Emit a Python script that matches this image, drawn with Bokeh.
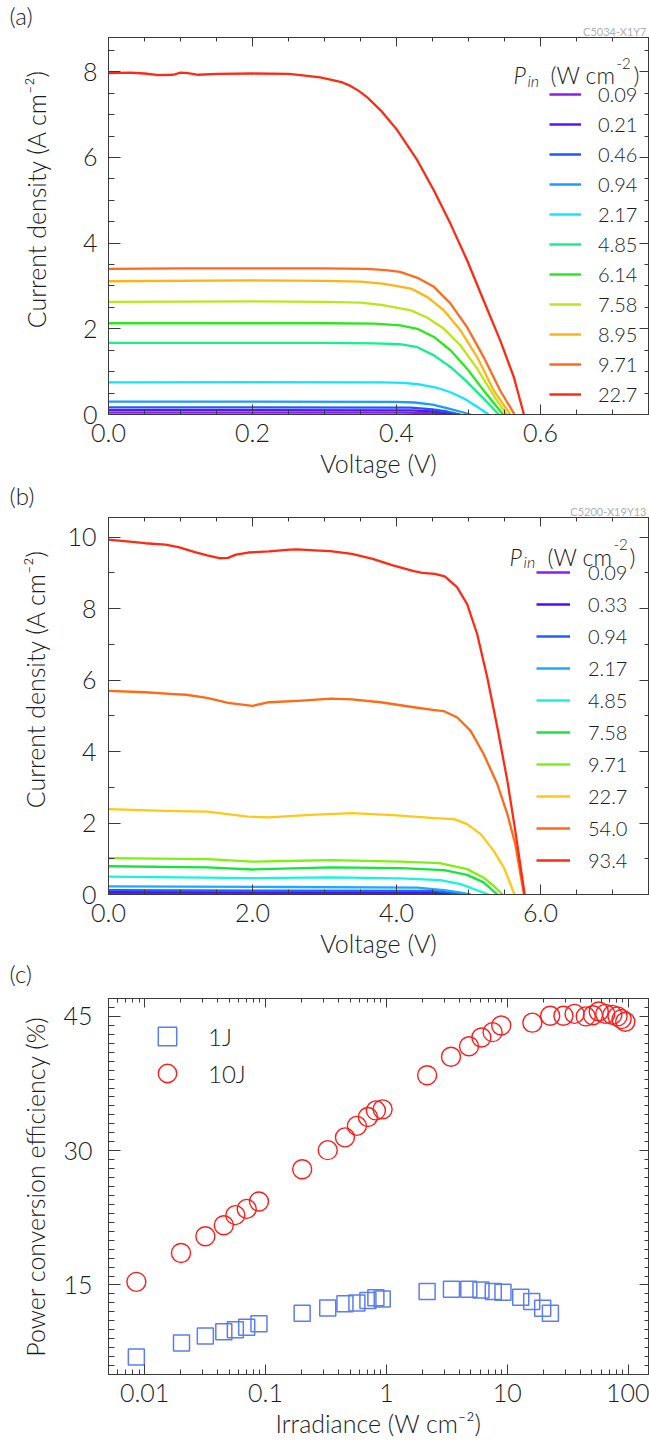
import numpy as np
from bokeh.plotting import figure
from bokeh.models import (LinearAxis, LogAxis, FixedTicker, Label, Legend, LegendItem, Title,
                          PrintfTickFormatter, CustomJSTickFormatter)
from bokeh.layouts import column
from bokeh.embed import file_html
from bokeh.resources import INLINE

FONT = "Lato Light"
INK = "#1c1c1c"
FRAME = "#3a3a3a"
NB = "\u00a0"
TICK_FS = "25px"
LABEL_FS = "25px"

# ---------------- panel (a): single junction, J-V curves ----------------
a_pin_labels = ["0.09", "0.21", "0.46", "0.94", "2.17", "4.85", "6.14", "7.58", "8.95", "9.71", "22.7"]
a_colors = ["#8a1cf0", "#5a14f5", "#2255ff", "#1a9cff", "#12e6ff", "#14f08a",
            "#2ae81a", "#bde61a", "#ffb414", "#ff6a1e", "#ff2a14"]

a_v_0p09 = [0.0, 0.20, 0.41, 0.44, 0.46, 0.47]
a_j_0p09 = [0.045, 0.045, 0.043, 0.03, 0.015, 0.0]
a_v_0p21 = [0.0, 0.20, 0.42, 0.45, 0.47, 0.482]
a_j_0p21 = [0.10, 0.10, 0.095, 0.07, 0.035, 0.0]
a_v_0p46 = [0.0, 0.20, 0.42, 0.45, 0.47, 0.489]
a_j_0p46 = [0.165, 0.165, 0.16, 0.12, 0.07, 0.0]
a_v_0p94 = [0.0, 0.20, 0.40, 0.425, 0.45, 0.47, 0.488, 0.503]
a_j_0p94 = [0.30, 0.30, 0.295, 0.28, 0.23, 0.15, 0.07, 0.0]
a_v_2p17 = [0.0, 0.20, 0.38, 0.41, 0.433, 0.455, 0.475, 0.495, 0.512, 0.528]
a_j_2p17 = [0.75, 0.755, 0.75, 0.74, 0.70, 0.63, 0.52, 0.36, 0.18, 0.0]
a_v_4p85 = [0.0, 0.20, 0.30, 0.37, 0.405, 0.429, 0.452, 0.475, 0.498, 0.521, 0.542]
a_j_4p85 = [1.67, 1.67, 1.67, 1.66, 1.64, 1.57, 1.38, 1.11, 0.76, 0.37, 0.0]
a_v_6p14 = [0.0, 0.20, 0.30, 0.37, 0.405, 0.429, 0.452, 0.475, 0.498, 0.521, 0.548]
a_j_6p14 = [2.13, 2.13, 2.13, 2.12, 2.08, 2.00, 1.81, 1.50, 1.07, 0.56, 0.0]
a_v_7p58 = [0.0, 0.20, 0.30, 0.35, 0.383, 0.42, 0.443, 0.466, 0.489, 0.512, 0.535, 0.553]
a_j_7p58 = [2.63, 2.64, 2.63, 2.61, 2.55, 2.43, 2.26, 2.00, 1.61, 1.07, 0.44, 0.0]
a_v_8p95 = [0.0, 0.20, 0.30, 0.35, 0.383, 0.42, 0.443, 0.466, 0.489, 0.512, 0.535, 0.558]
a_j_8p95 = [3.11, 3.13, 3.12, 3.10, 3.05, 2.94, 2.74, 2.43, 1.96, 1.34, 0.56, 0.0]
a_v_9p71 = [0.0, 0.10, 0.20, 0.30, 0.359, 0.385, 0.405, 0.429, 0.452, 0.475, 0.498, 0.521, 0.544, 0.564]
a_j_9p71 = [3.40, 3.41, 3.41, 3.41, 3.40, 3.37, 3.33, 3.19, 2.98, 2.59, 2.04, 1.34, 0.56, 0.0]
a_v_22p7 = [0.0, 0.03, 0.05, 0.07, 0.09, 0.10, 0.11, 0.125, 0.15, 0.20, 0.25, 0.267, 0.294,
            0.313, 0.325, 0.336, 0.347, 0.359, 0.378, 0.401, 0.429, 0.452, 0.475, 0.498, 0.521,
            0.544, 0.563, 0.577]
a_j_22p7 = [7.97, 7.98, 7.96, 7.92, 7.93, 7.98, 7.97, 7.93, 7.95, 7.96, 7.95, 7.92, 7.87,
            7.80, 7.75, 7.67, 7.56, 7.41, 7.10, 6.64, 5.93, 5.23, 4.45, 3.60, 2.66,
            1.73, 0.87, 0.0]

# ---------------- panel (b): ten junctions, J-V curves ----------------
b_pin_labels = ["0.09", "0.33", "0.94", "2.17", "4.85", "7.58", "9.71", "22.7", "54.0", "93.4"]
b_colors = ["#8a1cf0", "#4a10f0", "#1f5fff", "#1aaaff", "#14f5dc", "#14e63c",
            "#80f014", "#ffc814", "#ff6a14", "#ff2a14"]

b_v_0p09 = [0.0, 4.40, 4.65, 4.78]
b_j_0p09 = [0.03, 0.025, 0.01, 0.0]
b_v_0p33 = [0.0, 4.50, 4.75, 4.88]
b_j_0p33 = [0.065, 0.055, 0.02, 0.0]
b_v_0p94 = [0.0, 4.52, 4.80, 4.93]
b_j_0p94 = [0.12, 0.10, 0.04, 0.0]
b_v_2p17 = [0.0, 2.50, 4.29, 4.66, 4.89, 5.03]
b_j_2p17 = [0.23, 0.21, 0.19, 0.12, 0.05, 0.0]
b_v_4p85 = [0.0, 2.00, 3.09, 4.06, 4.61, 4.89, 5.12, 5.28]
b_j_4p85 = [0.50, 0.46, 0.48, 0.45, 0.40, 0.29, 0.12, 0.0]
b_v_7p58 = [0.0, 1.37, 2.00, 3.09, 4.06, 4.66, 4.98, 5.21, 5.40]
b_j_7p58 = [0.79, 0.76, 0.70, 0.76, 0.74, 0.68, 0.55, 0.34, 0.0]
b_v_9p71 = [0.0, 1.37, 2.00, 2.67, 3.09, 4.06, 4.60, 4.98, 5.21, 5.35, 5.47]
b_j_9p71 = [1.02, 0.99, 0.92, 0.944, 0.96, 0.92, 0.88, 0.71, 0.47, 0.24, 0.0]
b_v_22p7 = [0.0, 0.79, 1.37, 1.94, 2.23, 2.80, 3.38, 3.95, 4.53, 4.80, 4.98, 5.17, 5.35, 5.49, 5.64]
b_j_22p7 = [2.39, 2.34, 2.32, 2.18, 2.16, 2.23, 2.28, 2.22, 2.14, 2.11, 1.97, 1.69, 1.22, 0.76, 0.0]
b_v_54p0 = [0.0, 0.51, 0.91, 1.08, 1.37, 1.66, 2.00, 2.23, 2.63, 3.09, 3.38, 3.78, 4.24,
            4.53, 4.66, 4.84, 5.03, 5.21, 5.40, 5.54, 5.65, 5.77]
b_j_54p0 = [5.70, 5.66, 5.61, 5.59, 5.50, 5.36, 5.28, 5.38, 5.42, 5.48, 5.46, 5.38, 5.24,
            5.16, 5.13, 4.96, 4.58, 3.93, 3.09, 2.25, 1.41, 0.0]
b_v_93p4 = [0.0, 0.22, 0.51, 0.79, 0.97, 1.20, 1.37, 1.54, 1.66, 1.77, 1.94, 2.23, 2.52, 2.63,
            2.86, 3.08, 3.38, 3.67, 3.95, 4.24, 4.36, 4.53, 4.67, 4.84, 4.98, 5.12, 5.26,
            5.40, 5.54, 5.65, 5.78]
b_j_93p4 = [9.93, 9.89, 9.83, 9.79, 9.72, 9.58, 9.49, 9.41, 9.42, 9.51, 9.57, 9.60, 9.65, 9.66,
            9.63, 9.61, 9.53, 9.39, 9.21, 9.05, 9.00, 8.97, 8.90, 8.60, 8.13, 7.29, 6.08,
            4.68, 3.18, 1.78, 0.0]

# ---------------- panel (c): efficiency vs irradiance ----------------
c_irr_1j = [0.00855, 0.0202, 0.0318, 0.0452, 0.0563, 0.0699, 0.0883, 0.201, 0.327, 0.454,
            0.570, 0.703, 0.818, 0.923, 2.17, 3.45, 4.80, 6.05, 7.65, 9.2, 12.9, 15.9, 19.6, 22.7]
c_pce_1j = [6.96, 8.51, 9.29, 9.78, 10.0, 10.29, 10.67, 11.85, 12.44, 12.89,
            13.0, 13.26, 13.56, 13.44, 14.26, 14.51, 14.51, 14.44, 14.26, 14.18, 13.63, 13.15, 12.41, 11.85]
c_irr_10j = [0.00855, 0.0200, 0.0318, 0.0452, 0.0563, 0.0699, 0.0883, 0.201, 0.327, 0.454,
             0.570, 0.703, 0.818, 0.930, 2.17, 3.42, 4.82, 6.10, 7.55, 8.9, 16.1, 22.6,
             29.1, 36.0, 44.5, 51.0, 57.0, 64.5, 73.8, 81.5, 88.1, 94.5]
c_pce_10j = [15.35, 18.57, 20.44, 21.67, 22.8, 23.5, 24.33, 27.92, 30.06, 31.49,
             32.77, 33.76, 34.5, 34.62, 38.43, 40.5, 41.67, 42.65, 43.24, 43.98, 44.3, 45.08,
             45.08, 45.28, 45.0, 45.13, 45.55, 45.28, 45.17, 45.0, 44.7, 44.4]

# ---------------- tick positions ----------------
a_x_major = [0.0, 0.2, 0.4, 0.6]
a_x_minor = [round(0.05 * i, 2) for i in range(0, 16)]
a_y_major = [0, 2, 4, 6, 8]
a_y_minor = [0.5 * i for i in range(0, 18)]
b_x_major = [0.0, 2.0, 4.0, 6.0]
b_x_minor = [0.5 * i for i in range(0, 16)]
b_y_major = [0, 2, 4, 6, 8, 10]
b_y_minor = list(range(0, 11))
c_x_major = [0.01, 0.1, 1, 10, 100]
c_x_minor = [m * 10.0 ** e for e in range(-3, 2) for m in range(2, 10)]
c_y_major = [15, 30, 45]
c_y_minor = list(range(5, 48))


def style_axis(ax, major, minor, fmt, show, tin, tmin, standoff=0):
    ax.ticker = FixedTicker(ticks=major, minor_ticks=minor)
    ax.axis_line_color = FRAME
    ax.major_tick_line_color = FRAME
    ax.minor_tick_line_color = FRAME
    ax.major_tick_in = tin
    ax.major_tick_out = 0
    ax.minor_tick_in = tmin
    ax.minor_tick_out = 0
    ax.major_label_text_font = FONT
    ax.major_label_text_color = INK
    if show:
        ax.formatter = fmt
        ax.major_label_text_font_size = TICK_FS
        ax.major_label_standoff = standoff
    else:
        ax.formatter = CustomJSTickFormatter(code="return '';")
        ax.major_label_text_font_size = "0px"
        ax.major_label_standoff = 0


def set_label(ax, text, standoff):
    ax.axis_label = text
    ax.axis_label_text_font = FONT
    ax.axis_label_text_font_size = LABEL_FS
    ax.axis_label_text_font_style = "normal"
    ax.axis_label_text_color = INK
    ax.axis_label_standoff = standoff


def make_fig(xr, yr, panel_tag, xlog=False):
    p = figure(width=649, height=480, x_range=xr, y_range=yr,
               x_axis_type="log" if xlog else "linear",
               output_backend="svg", toolbar_location=None,
               min_border_left=108, min_border_right=1,
               min_border_top=37, min_border_bottom=66)
    p.grid.visible = False
    p.outline_line_color = FRAME
    p.outline_line_width = 1
    p.background_fill_color = "white"
    p.border_fill_color = "white"
    p.title.text = panel_tag
    p.title.text_font = FONT
    p.title.text_font_size = "24px"
    p.title.text_font_style = "normal"
    p.title.text_color = INK
    p.title.align = "left"
    p.title.offset = -99
    return p


def finish_axes(p, xmaj, xmin, ymaj, ymin, xfmt, yfmt, xlabel, ylabel, ystand, ylab_stand,
                id_text=" ", xlog=False):
    bottom = p.xaxis[0]
    left = p.yaxis[0]
    style_axis(bottom, xmaj, xmin, xfmt, True, 10, 5, 9)
    style_axis(left, ymaj, ymin, yfmt, True, 12, 6, ystand)
    set_label(bottom, xlabel, 3)
    set_label(left, ylabel, ylab_stand)
    top = LogAxis() if xlog else LinearAxis()
    right = LinearAxis()
    style_axis(top, xmaj, xmin, None, False, 9, 4)
    style_axis(right, ymaj, ymin, None, False, 9, 4)
    p.add_layout(top, "above")
    p.add_layout(right, "right")
    p.add_layout(Title(text=id_text, align="right", offset=2, standoff=0,
                       text_font="Lato", text_font_size="11px", text_font_style="normal",
                       text_color="#b0b0b0"), "above")


def add_text(p, x, y, text, size, style="normal"):
    p.add_layout(Label(x=x, y=y, text=text, text_font=FONT, text_font_size=size,
                       text_align="left", text_baseline="alphabetic", text_font_style=style,
                       text_color=INK))


def line_legend(p, renderers, labels, loc, item_h, glyph_w, standoff):
    items = [LegendItem(label=l, renderers=[r]) for l, r in zip(labels, renderers)]
    lg = Legend(items=items, location=loc, padding=0, margin=0, spacing=0,
                glyph_width=glyph_w, glyph_height=item_h, label_height=item_h,
                label_standoff=standoff, label_text_font=FONT, label_text_font_size="20px",
                label_text_color=INK, border_line_color=None, background_fill_alpha=0)
    p.add_layout(lg)


def set_title_standoff(p, value):
    try:
        p.title.standoff = value
    except Exception:
        p.title.standoff = 0


JLABEL = NB * 8 + "Current density (A cm\u207b\u00b2)"

# ===== (a) =====
pa = make_fig((0, 0.75), (0, 8.8), "(a)")
a_curves = [(a_v_0p09, a_j_0p09), (a_v_0p21, a_j_0p21), (a_v_0p46, a_j_0p46), (a_v_0p94, a_j_0p94),
            (a_v_2p17, a_j_2p17), (a_v_4p85, a_j_4p85), (a_v_6p14, a_j_6p14), (a_v_7p58, a_j_7p58),
            (a_v_8p95, a_j_8p95), (a_v_9p71, a_j_9p71), (a_v_22p7, a_j_22p7)]
a_r = [pa.line(v, j, line_color=c, line_width=2.3, line_join="round")
       for (v, j), c in zip(a_curves, a_colors)]
finish_axes(pa, a_x_major, a_x_minor, a_y_major, a_y_minor,
            PrintfTickFormatter(format="%.1f"), PrintfTickFormatter(format="%d"),
            "Voltage (V)", JLABEL, 11, 29, id_text="C5034-X1Y7")
set_title_standoff(pa, -14)
line_legend(pa, a_r, a_pin_labels, (441, 5), 30, 32, 17)
add_text(pa, 0.5625, 7.92, "P", "23px", style="italic")
add_text(pa, 0.5819, 7.80, "in", "16px", style="italic")
add_text(pa, 0.6139, 7.92, "(W cm", "23px")
add_text(pa, 0.7056, 8.20, "-2", "15px")
add_text(pa, 0.7292, 7.92, ")", "23px")

# ===== (b) =====
pb = make_fig((0, 7.5), (0, 10.55), "(b)")
b_curves = [(b_v_0p09, b_j_0p09), (b_v_0p33, b_j_0p33), (b_v_0p94, b_j_0p94), (b_v_2p17, b_j_2p17),
            (b_v_4p85, b_j_4p85), (b_v_7p58, b_j_7p58), (b_v_9p71, b_j_9p71), (b_v_22p7, b_j_22p7),
            (b_v_54p0, b_j_54p0), (b_v_93p4, b_j_93p4)]
b_r = [pb.line(v, j, line_color=c, line_width=2.3, line_join="round")
       for (v, j), c in zip(b_curves, b_colors)]
finish_axes(pb, b_x_major, b_x_minor, b_y_major, b_y_minor,
            PrintfTickFormatter(format="%.1f"), PrintfTickFormatter(format="%d"),
            "Voltage (V)", JLABEL, 12, 14, id_text="C5200-X19Y13")
set_title_standoff(pb, -14)
line_legend(pb, b_r, b_pin_labels, (428, 18), 32, 34, 18)
add_text(pb, 5.569, 9.45, "P", "23px", style="italic")
add_text(pb, 5.764, 9.31, "in", "16px", style="italic")
add_text(pb, 6.097, 9.45, "(W cm", "23px")
add_text(pb, 7.014, 9.79, "-2", "15px")
add_text(pb, 7.236, 9.45, ")", "23px")

# ===== (c) =====
pc = make_fig((0.00503, 147), (5, 47), "(c)", xlog=True)
r1 = pc.scatter(c_irr_1j, c_pce_1j, marker="square", size=16, fill_color=None,
                line_color="#5c7cf2", line_width=1.5)
r10 = pc.scatter(c_irr_10j, c_pce_10j, marker="circle", size=19, fill_color=None,
                 line_color="#ff1a1a", line_width=1.4)
finish_axes(pc, c_x_major, c_x_minor, c_y_major, c_y_minor,
            CustomJSTickFormatter(code="return tick.toString();"), PrintfTickFormatter(format="%d"),
            "Irradiance (W cm\u207b\u00b2)", "Power conversion efficiency (%)", 16, 10, xlog=True)
set_title_standoff(pc, -8)
for lab, r, loc in [("1J", r1, (36, 315)), ("10J", r10, (36, 278))]:
    pc.add_layout(Legend(items=[LegendItem(label=lab, renderers=[r])], location=loc,
                         padding=0, margin=0, spacing=0, glyph_width=46, glyph_height=46,
                         label_height=46, label_standoff=18, label_text_font=FONT,
                         label_text_font_size="24px", label_text_color=INK,
                         border_line_color=None, background_fill_alpha=0))

layout = column(pa, pb, pc, spacing=0)
open("out.html", "w").write(file_html(layout, INLINE))
